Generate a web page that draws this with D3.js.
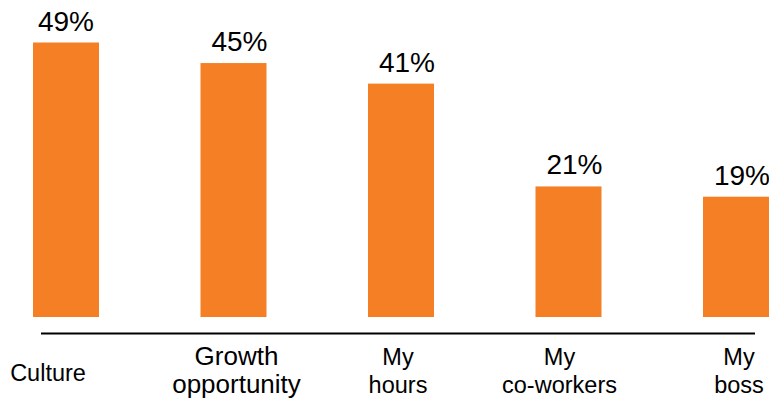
<!DOCTYPE html>
<html>
<head>
<meta charset="utf-8">
<script src="https://cdn.jsdelivr.net/npm/d3@7"></script>
<style>
  body { margin: 0; background: #fff; }
  text { font-family: "Liberation Sans", Arial, sans-serif; fill: #000; }
</style>
</head>
<body>
<script>
var categories = [["Culture"], ["Growth", "opportunity"], ["My", "hours"], ["My", "co-workers"], ["My", "boss"]];
var values = [49, 45, 41, 21, 19];
var valueLabels = ["49%", "45%", "41%", "21%", "19%"];

var width = 769,
  height = 402;

var svg = d3.select("body").append("svg")
    .attr("width", width)
    .attr("height", height);

var keys = categories.map(function(c){ return c.join(" "); });

var x = d3.scalePoint()
  .domain(keys)
  .range([66, 736]);

// bars don't start from zero in the original, fitted from the picture
var y = d3.scaleLinear()
  .domain([-4.4, 49])
  .range([317, 42.5]);

var barWidth = 66;

var data = keys.map(function(k, i){
  return {key: k, lines: categories[i], value: values[i], label: valueLabels[i]};
});

svg.selectAll(".bar")
  .data(data)
  .enter().append("rect")
  .attr("class", "bar")
  .attr("x", function(d){ return x(d.key) - barWidth/2; })
  .attr("width", barWidth)
  .attr("y", function(d){ return y(d.value); })
  .attr("height", function(d){ return y(-4.4) - y(d.value); })
  .attr("fill", "#F47F24");

svg.selectAll(".val")
  .data(data)
  .enter().append("text")
  .attr("class", "val")
  .attr("x", function(d, i){ return x(d.key) + (i == 0 ? 0 : 6); })
  .attr("y", function(d){ return y(d.value) - 12; })
  .attr("text-anchor", "middle")
  .style("font-size", "28px")
  .text(function(d){ return d.label; });

// baseline
svg.append("line")
  .attr("x1", 41).attr("x2", 755)
  .attr("y1", 333.5).attr("y2", 333.5)
  .attr("stroke", "#000")
  .attr("stroke-width", 2);

var cat = svg.selectAll(".cat")
  .data(data)
  .enter().append("text")
  .attr("class", "cat")
  .attr("text-anchor", "middle")
  .style("font-size", function(d, i){ return i == 1 ? "26px" : "23.5px"; })
  .attr("transform", function(d, i){
    var dx = i == 0 ? -18 : (i == 2 ? -3 : (i == 3 ? -9 : 3));
    return "translate(" + (x(d.key) + dx) + ",0)";
  });

cat.selectAll("tspan")
  .data(function(d){ return d.lines.map(function(l, j){ return {t: l, j: j, n: d.lines.length}; }); })
  .enter().append("tspan")
  .attr("x", 0)
  .attr("y", function(d){ return d.n == 1 ? 381 : 365 + d.j * 27.5; })
  .text(function(d){ return d.t; });
</script>
</body>
</html>
